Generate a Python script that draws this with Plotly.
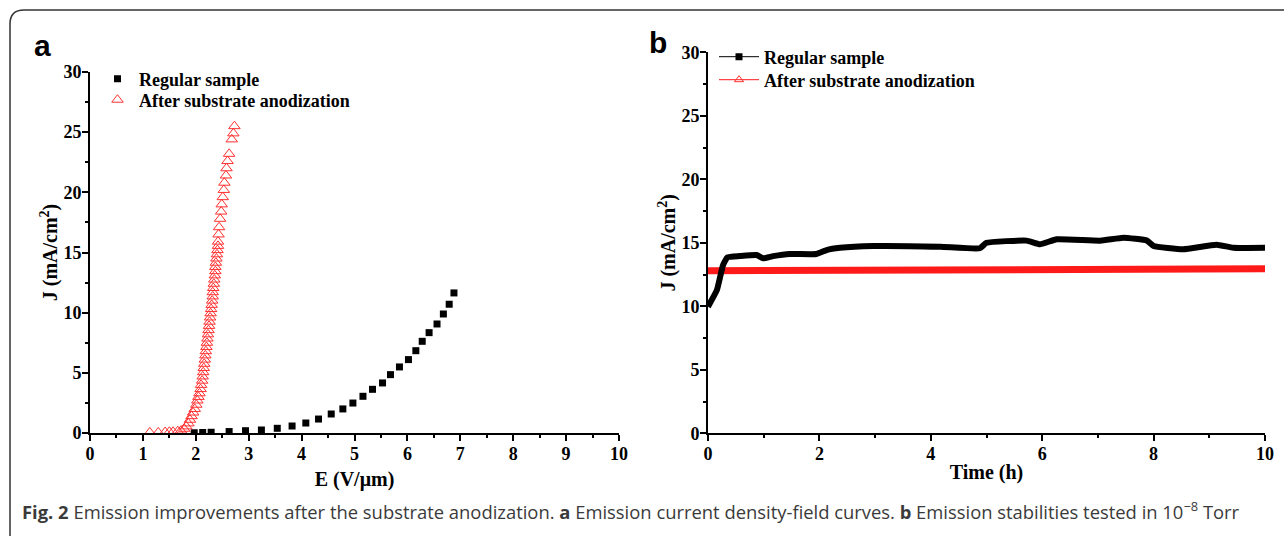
import plotly.graph_objects as go

# ---------------- Data ----------------
# Panel a: J-E curves
E_regular = [1.97, 2.13, 2.29, 2.63, 2.94, 3.24, 3.54, 3.82, 4.08, 4.32, 4.56, 4.78, 4.97,
             5.16, 5.34, 5.53, 5.68, 5.85, 6.02, 6.16, 6.28, 6.41, 6.56, 6.68, 6.79, 6.88]
J_regular = [0.02, 0.04, 0.06, 0.12, 0.19, 0.25, 0.39, 0.58, 0.83, 1.16, 1.58, 2.0, 2.49,
             3.05, 3.63, 4.16, 4.85, 5.49, 6.1, 6.84, 7.62, 8.34, 9.06, 9.89, 10.7, 11.64]

E_anod = [1.13, 1.29, 1.42, 1.50, 1.57, 1.66, 1.72, 1.78, 1.82, 1.86, 1.89, 1.92, 1.95, 1.98,
          2.01, 2.03, 2.05, 2.07, 2.09, 2.10, 2.12, 2.13, 2.14, 2.15, 2.16, 2.17, 2.18, 2.19,
          2.20, 2.21, 2.22, 2.23, 2.24, 2.25, 2.26, 2.27, 2.28, 2.29, 2.30, 2.31, 2.32, 2.32,
          2.33, 2.34, 2.35, 2.36, 2.37, 2.37, 2.38, 2.39, 2.40, 2.41, 2.42, 2.42, 2.43, 2.44,
          2.46, 2.48, 2.49, 2.51, 2.53, 2.54, 2.57, 2.58, 2.60, 2.63, 2.68, 2.71, 2.73]
J_anod = [0.05, 0.05, 0.08, 0.10, 0.10, 0.15, 0.20, 0.35, 0.55, 0.80, 1.10, 1.40, 1.70, 2.00,
          2.35, 2.70, 3.00, 3.30, 3.65, 4.00, 4.35, 4.70, 5.05, 5.40, 5.75, 6.10, 6.45, 6.80,
          7.15, 7.50, 7.85, 8.20, 8.55, 8.90, 9.25, 9.60, 9.95, 10.30, 10.65, 11.00, 11.35, 11.70,
          12.05, 12.40, 12.75, 13.10, 13.45, 13.80, 14.15, 14.50, 14.85, 15.20, 15.55, 15.90, 16.50, 17.10,
          17.80, 18.40, 19.00, 19.60, 20.20, 20.80, 21.40, 22.00, 22.60, 23.20, 24.40, 24.90, 25.50]

# Panel b: stability
t_regular = [0.0, 0.16, 0.27, 0.35, 0.57, 0.87, 0.99, 1.17, 1.47, 1.95, 2.13, 2.37, 2.97, 4.17,
             4.88, 5.0, 5.72, 5.96, 6.26, 7.04, 7.46, 7.88, 8.0, 8.53, 9.13, 9.43, 10.0]
Jt_regular = [9.97, 11.28, 13.25, 13.86, 13.96, 14.04, 13.78, 13.95, 14.12, 14.12, 14.43, 14.61, 14.75,
              14.69, 14.57, 15.0, 15.17, 14.88, 15.28, 15.17, 15.4, 15.17, 14.75, 14.49, 14.85, 14.61, 14.61]
t_anod = [0.0, 2.0, 4.0, 6.0, 8.0, 10.0]
Jt_anod = [12.8, 12.82, 12.85, 12.88, 12.92, 12.95]

x_ticks_a = [0, 1, 2, 3, 4, 5, 6, 7, 8, 9, 10]
x_ticks_b = [0, 2, 4, 6, 8, 10]
y_ticks = [0, 5, 10, 15, 20, 25, 30]

names = ["Regular sample", "After substrate anodization"]
caption = ("<b>Fig. 2</b> Emission improvements after the substrate anodization. "
           "<b>a</b> Emission current density-field curves. "
           "<b>b</b> Emission stabilities tested in 10<sup>\u22128</sup> Torr")

# ---------------- Layout helpers ----------------
W, H = 1284, 536
def px(x): return x / W
def py(y): return 1 - y / H

SERIF = "Liberation Serif"
tick_font = dict(family=SERIF, size=18, color="black", weight="bold")
title_font = dict(family=SERIF, size=20, color="black", weight="bold")
leg_font = dict(family=SERIF, size=18, color="black", weight="bold")

fig = go.Figure()

# Panel a traces
fig.add_trace(go.Scatter(x=E_regular, y=J_regular, mode="markers", name=names[0],
                         marker=dict(symbol="square", size=7, color="black"),
                         xaxis="x", yaxis="y", legend="legend"))
fig.add_trace(go.Scatter(x=E_anod, y=J_anod, mode="markers", name=names[1],
                         marker=dict(symbol="triangle-up-open", size=10, color="#ff3030",
                                     line=dict(width=1, color="#ff3030")),
                         xaxis="x", yaxis="y", legend="legend3"))

# Panel b traces (data)
fig.add_trace(go.Scatter(x=t_anod, y=Jt_anod, mode="lines", showlegend=False,
                         line=dict(color="#ff1a1a", width=7), xaxis="x2", yaxis="y2"))
fig.add_trace(go.Scatter(x=t_regular, y=Jt_regular, mode="lines", showlegend=False,
                         line=dict(color="black", width=6, shape="spline", smoothing=0.4),
                         xaxis="x2", yaxis="y2"))
# Panel b legend entries
fig.add_trace(go.Scatter(x=[None], y=[None], mode="lines+markers", name=names[0],
                         line=dict(color="black", width=1),
                         marker=dict(symbol="square", size=7, color="black"),
                         xaxis="x2", yaxis="y2", legend="legend2"))
fig.add_trace(go.Scatter(x=[None], y=[None], mode="lines+markers", name=names[1],
                         line=dict(color="#ff1a1a", width=1),
                         marker=dict(symbol="triangle-up-open", size=8, color="#ff3030",
                                     line=dict(width=1, color="#ff3030")),
                         xaxis="x2", yaxis="y2", legend="legend4"))

axis_common = dict(showline=True, linecolor="black", linewidth=2, ticks="outside",
                   ticklen=6, tickwidth=2, tickcolor="black", showgrid=False,
                   zeroline=False, tickfont=tick_font, mirror=False, automargin=False,
                   ticklabelstandoff=-3)

def leg(x, y, iw=30):
    return dict(x=px(x), y=py(y), xanchor="left", yanchor="middle", font=leg_font,
                bgcolor="rgba(0,0,0,0)", tracegroupgap=0, itemwidth=iw)

fig.update_layout(
    width=W, height=H,
    margin=dict(l=0, r=0, t=0, b=0),
    paper_bgcolor="white", plot_bgcolor="white",
    xaxis=dict(domain=[px(90), px(619)], range=[0, 10], tickvals=x_ticks_a,
               minor=dict(dtick=0.5, ticks="outside", ticklen=3, tickwidth=2, tickcolor="black"),
               title=dict(text="E (V/\u03bcm)", font=title_font, standoff=9),
               anchor="y", **axis_common),
    yaxis=dict(domain=[py(433), py(72)], range=[0, 30], tickvals=y_ticks,
               minor=dict(dtick=2.5, ticks="outside", ticklen=3, tickwidth=2, tickcolor="black"),
               title=dict(text="J (mA/cm<sup>2</sup>)", font=title_font, standoff=0),
               anchor="x", **axis_common),
    xaxis2=dict(domain=[px(708), px(1265)], range=[0, 10], tickvals=x_ticks_b,
                minor=dict(dtick=1, ticks="outside", ticklen=3, tickwidth=2, tickcolor="black"),
                title=dict(text="Time (h)", font=title_font, standoff=2),
                anchor="y2", **axis_common),
    yaxis2=dict(domain=[py(433.3), py(52.3)], range=[0, 30], tickvals=y_ticks,
                minor=dict(dtick=2.5, ticks="outside", ticklen=3, tickwidth=2, tickcolor="black"),
                title=dict(text="J (mA/cm<sup>2</sup>)", font=title_font, standoff=0),
                anchor="x2", **axis_common),
    legend=leg(96, 79, 33),
    legend3=leg(96, 100, 33),
    legend2=leg(714, 57, 40),
    legend4=leg(714, 80, 40),
    showlegend=True,
)

# Rounded frame (top-left corner)
r_x, r_y = 14 / W, 14 / H
x0, yt = px(10), py(10)
fig.add_shape(type="path", xref="paper", yref="paper",
              path=f"M {x0},{py(540)} L {x0},{yt - r_y} Q {x0},{yt} {x0 + r_x},{yt} L 1.01,{yt}",
              line=dict(color="#333333", width=1.5))

# Panel letters
fig.add_annotation(text="<b>a</b>", x=px(43), y=py(45), xref="paper", yref="paper",
                   xanchor="center", yanchor="middle",
                   showarrow=False, font=dict(family="Liberation Sans", size=30, color="black"))
fig.add_annotation(text="<b>b</b>", x=px(658), y=py(43), xref="paper", yref="paper",
                   xanchor="center", yanchor="middle",
                   showarrow=False, font=dict(family="Liberation Sans", size=30, color="black"))

# Caption
fig.add_annotation(text=caption, x=px(20), y=py(510), xref="paper", yref="paper",
                   xanchor="left", yanchor="middle", showarrow=False,
                   font=dict(family="Open Sans", size=18.4, color="#3a3a3a"))

fig.write_html("out.html", config={"displayModeBar": False},
               post_script="document.body.style.margin='0px';")
